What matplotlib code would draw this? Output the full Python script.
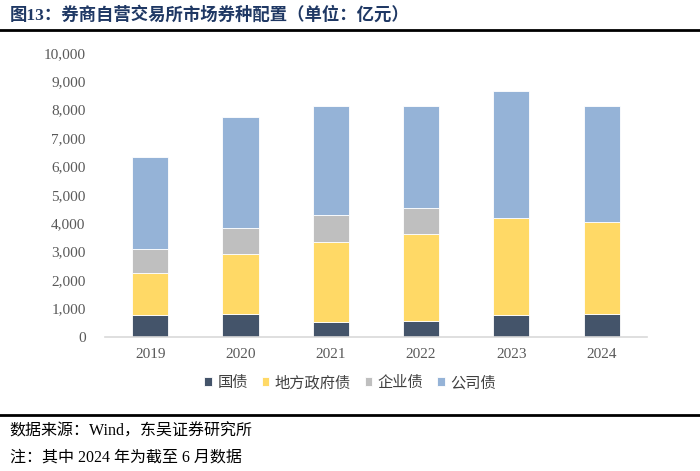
import matplotlib
matplotlib.use("Agg")
import matplotlib.pyplot as plt
from matplotlib.lines import Line2D
from matplotlib.ticker import FuncFormatter
import numpy as np

years = ["2019", "2020", "2021", "2022", "2023", "2024"]
series_names = ["国债", "地方政府债", "企业债", "公司债"]
guozhai = [750, 800, 510, 540, 775, 800]
difang = [1500, 2110, 2840, 3075, 3395, 3240]
qiye = [840, 925, 930, 925, 0, 0]
gongsi = [3230, 3890, 3850, 3590, 4470, 4075]
colors = ["#44546A", "#FFD966", "#BFBFBF", "#95B3D7"]
yticks = list(range(0, 10001, 1000))

FAM = ["Liberation Serif", "Noto Sans CJK SC", "DejaVu Sans"]
plt.rcParams["font.family"] = FAM

fig = plt.figure(figsize=(7, 4.71), dpi=100)
ax = fig.add_axes([0.15, 0.285, 0.774, 0.603])

x = np.arange(len(years))
bottom = np.zeros(len(years))
handles = []
for name, vals, c in zip(series_names, [guozhai, difang, qiye, gongsi], colors):
    b = ax.bar(x, vals, width=0.4, bottom=bottom, color=c, edgecolor="white",
               linewidth=0.6, label=name)
    handles.append(b)
    bottom += np.array(vals)

ax.set_xlim(-0.5, len(years) - 0.5)
ax.set_ylim(0, 10000)
ax.set_yticks(yticks)
ax.yaxis.set_major_formatter(FuncFormatter(lambda v, p: f"{int(v):,}"))
ax.set_xticks(x)
ax.set_xticklabels(years)
for s in ["top", "right", "left"]:
    ax.spines[s].set_visible(False)
ax.spines["bottom"].set_color("#D9D9D9")
ax.spines["bottom"].set_linewidth(1.2)
ax.tick_params(axis="both", length=0, labelsize=11, labelcolor="#595959")
ax.tick_params(axis="y", pad=14)
ax.tick_params(axis="x", pad=8)

leg = fig.legend(handles=handles, labels=series_names, loc="center",
                 bbox_to_anchor=(0.5, 0.187), ncol=4, frameon=False,
                 fontsize=11, handlelength=0.5, handleheight=0.5,
                 handletextpad=0.35, columnspacing=0.9)
for t in leg.get_texts():
    t.set_color("#404040")

fig.text(0.014, 0.968, "图13：券商自营交易所市场券种配置（单位：亿元）",
         fontsize=12.5, fontweight="bold", color="#1F3864", va="center", ha="left")
fig.add_artist(Line2D([0.0, 1.0], [0.936, 0.936], color="black", linewidth=2.0,
                      transform=fig.transFigure))
fig.add_artist(Line2D([0.0, 1.0], [0.119, 0.119], color="black", linewidth=2.0,
                      transform=fig.transFigure))
fig.text(0.014, 0.083, "数据来源：Wind，东吴证券研究所", fontsize=11.5,
         color="black", va="center", ha="left")
fig.text(0.014, 0.028, "注：其中 2024 年为截至 6 月数据", fontsize=11.5,
         color="black", va="center", ha="left")

fig.savefig("out.png", dpi=100, facecolor="white")
